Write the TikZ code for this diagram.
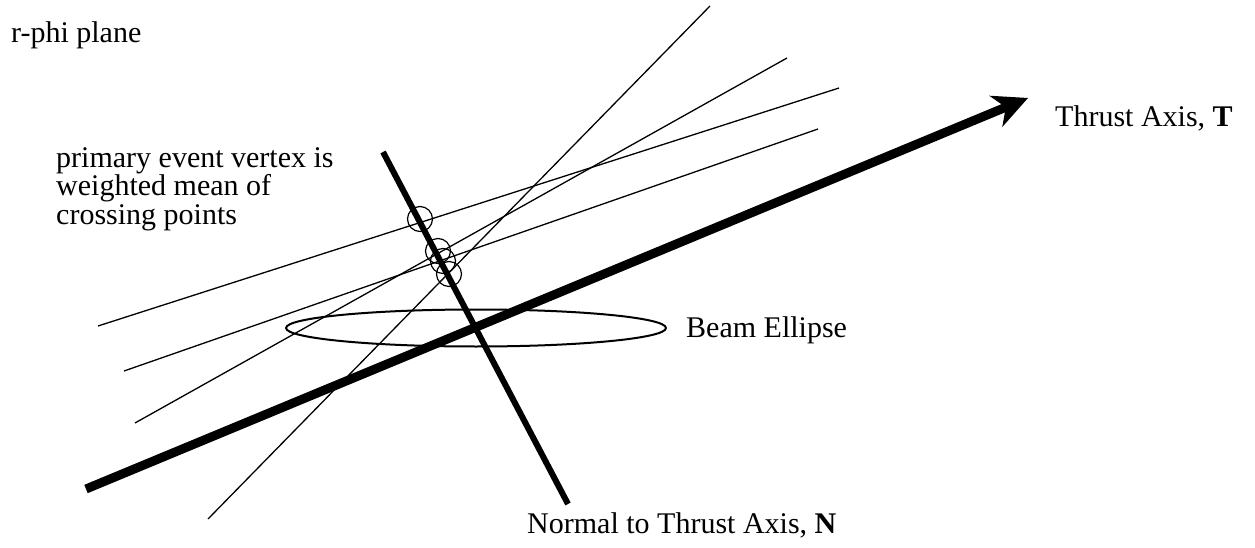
\documentclass[tikz,border=0pt]{standalone}
\usepackage{fontspec}
\setmainfont{Liberation Serif}
\usepackage{tikz}
\usetikzlibrary{arrows.meta,positioning,shapes.geometric}

\begin{document}
\begin{tikzpicture}[
    x=1pt,
    y=-1pt,
    txt/.style={anchor=base west,inner sep=0pt,font=\rmfamily\fontsize{30}{29}\selectfont},
    track/.style={line width=1.3pt},
    thrustaxis/.style={-{Stealth[length=35pt,width=34pt,inset=11pt,line width=0pt]},line width=9pt},
    normalaxis/.style={line width=6pt},
    crossing/.style={circle,draw,line width=1.2pt,minimum size=25pt,inner sep=0pt},
    beam/.style={ellipse,draw,line width=2pt,minimum width=380pt,minimum height=37pt,inner sep=0pt}
]
    \useasboundingbox (0,0) rectangle (1255,548);

    \coordinate (tA0) at (98,326);
    \coordinate (tA1) at (839,88);
    \coordinate (tB0) at (124,371);
    \coordinate (tB1) at (818,129);
    \coordinate (tC0) at (135,423);
    \coordinate (tC1) at (787,58);
    \coordinate (tD0) at (208,519);
    \coordinate (tD1) at (710,6);
    \coordinate (T0) at (86,489);
    \coordinate (T1) at (1028,98);
    \coordinate (N0) at (383,152);
    \coordinate (N1) at (568,504);

    \draw[track] (tA0) -- (tA1);
    \draw[track] (tB0) -- (tB1);
    \draw[track] (tC0) -- (tC1);
    \draw[track] (tD0) -- (tD1);

    \node[beam] (ellipse) at (476,328) {};

    \node[crossing] (c1) at (420,219) {};
    \node[crossing] (c2) at (438,251) {};
    \node[crossing] (c3) at (443,261) {};
    \node[crossing] (c4) at (449,274) {};

    \draw[normalaxis] (N0) -- (N1);
    \draw[thrustaxis] (T0) -- (T1);

    \node[txt] (plane) at (11,43) {r-phi plane};
    \node[txt,align=left] (vertex) at (56,225) {primary event vertex is\\weighted mean of\\crossing points};
    \node[txt] (beamlabel) at (686,337) {Beam Ellipse};
    \node[txt] (thrustlabel) at (1055,127) {Thrust Axis, \textbf{T}};
    \node[txt] (normallabel) at (527,533) {Normal to Thrust Axis, \textbf{N}};
\end{tikzpicture}
\end{document}
